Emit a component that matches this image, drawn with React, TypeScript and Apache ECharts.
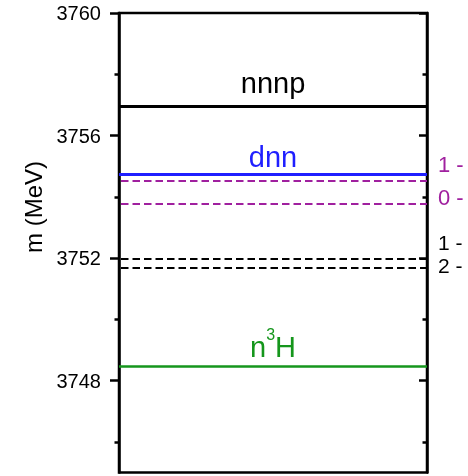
import React, { useEffect, useRef } from "react";
import * as echarts from "echarts";

// axis
const yMin = 3745;
const yMax = 3760;
const majorTicks = [3748, 3752, 3756, 3760];
const minorTicks = [3746, 3750, 3754, 3758];
const yAxisName = "m (MeV)";

// solid levels with labels
const levelLabels = ["nnnp", "dnn", "n{sup|3}H"];
const levelValues = [3756.97, 3754.72, 3748.48];
const levelColors = ["#000000", "#1f1fff", "#15961c"];

// dashed levels
const dashedValues = [3754.53, 3753.76, 3751.98, 3751.68];
const dashedColors = ["#a0209f", "#a0209f", "#000000", "#000000"];

// side labels
const sideLabels = ["1 -", "0 -", "1 -", "2 -"];
const sideValues = [3755.04, 3753.98, 3752.51, 3751.77];
const sideColors = ["#a0209f", "#a0209f", "#000000", "#000000"];
const sideSizes = [22, 22, 21, 21];

const FONT = "'Liberation Sans', Arial, sans-serif";

export default function App() {
  const ref = useRef<HTMLDivElement>(null);
  useEffect(() => {
    if (!ref.current) return;
    const chart = echarts.init(ref.current, null, { renderer: "svg" });
    const yBase = {
      type: "value",
      min: yMin,
      max: yMax,
      splitLine: { show: false },
    };
    const solidItems = levelValues.map((v, i) => ({
      yAxis: v,
      lineStyle: { color: levelColors[i], width: i === 2 ? 2.6 : 3, type: "solid" },
      label: {
        show: true,
        position: "insideMiddleTop",
        formatter: levelLabels[i],
        color: levelColors[i],
        fontSize: 29,
        fontFamily: FONT,
        distance: i === 0 ? 8 : i === 1 ? 3 : -1,
        lineHeight: i === 2 ? 40 : 29,
        rich: {
          sup: { fontSize: 16, verticalAlign: "top", lineHeight: 15, color: levelColors[i], fontFamily: FONT },
        },
      },
    }));
    const dashedItems = dashedValues.map((v, i) => ({
      yAxis: v,
      lineStyle: { color: dashedColors[i], width: 2, type: [7.5, 4], dashOffset: -2 },
      label: { show: false },
    }));
    chart.setOption({
      animation: false,
      grid: {
        left: 119,
        right: 41,
        top: 13,
        bottom: 3.5,
        show: true,
        borderColor: "#000",
        borderWidth: 2.5,
        backgroundColor: "transparent",
      },
      xAxis: {
        type: "value",
        min: 0,
        max: 1,
        show: false,
      },
      yAxis: [
        {
          ...yBase,
          position: "left",
          axisLine: { show: true, lineStyle: { color: "#000", width: 2.5 } },
          axisTick: {
            show: true,
            inside: false,
            length: 9,
            customValues: majorTicks,
            lineStyle: { color: "#000", width: 2.5 },
          },
          axisLabel: {
            show: true,
            customValues: majorTicks,
            margin: 18,
            fontSize: 20,
            color: "#000",
            fontFamily: FONT,
            formatter: (v: number) => String(v),
          },
        },
        {
          ...yBase,
          position: "left",
          axisLine: { show: false },
          axisTick: {
            show: true,
            inside: false,
            length: 4.5,
            customValues: minorTicks,
            lineStyle: { color: "#000", width: 2.5 },
          },
          axisLabel: { show: false },
        },
        {
          ...yBase,
          position: "right",
          axisLine: { show: true, lineStyle: { color: "#000", width: 2.5 } },
          axisTick: {
            show: true,
            inside: true,
            length: 8,
            customValues: majorTicks,
            lineStyle: { color: "#000", width: 2.5 },
          },
          axisLabel: { show: false },
        },
        {
          ...yBase,
          position: "right",
          axisLine: { show: false },
          axisTick: {
            show: true,
            inside: true,
            length: 4.5,
            customValues: minorTicks,
            lineStyle: { color: "#000", width: 2.5 },
          },
          axisLabel: { show: false },
        },
      ],
      graphic: [
        {
          type: "text",
          x: 33,
          y: 207,
          rotation: Math.PI / 2,
          style: {
            text: yAxisName,
            fontSize: 24,
            fontFamily: FONT,
            fill: "#000",
            align: "center",
            verticalAlign: "middle",
          },
        },
      ],
      series: [
        {
          type: "line",
          data: [],
          silent: true,
          markLine: {
            silent: true,
            symbol: ["none", "none"],
            animation: false,
            data: [...dashedItems, ...solidItems],
          },
        },
        {
          type: "scatter",
          clip: false,
          silent: true,
          symbolSize: 0,
          itemStyle: { opacity: 1 },
          data: sideValues.map((v, i) => ({
            value: [1, v],
            label: {
              show: true,
              position: "right",
              distance: 11,
              formatter: sideLabels[i],
              color: sideColors[i],
              opacity: 1,
              fontSize: sideSizes[i],
              fontFamily: FONT,
            },
          })),
        },
      ],
    });
    return () => chart.dispose();
  }, []);
  return (
    <div
      ref={ref}
      style={{ position: "fixed", left: 0, top: 0, width: 468, height: 476 }}
    />
  );
}
